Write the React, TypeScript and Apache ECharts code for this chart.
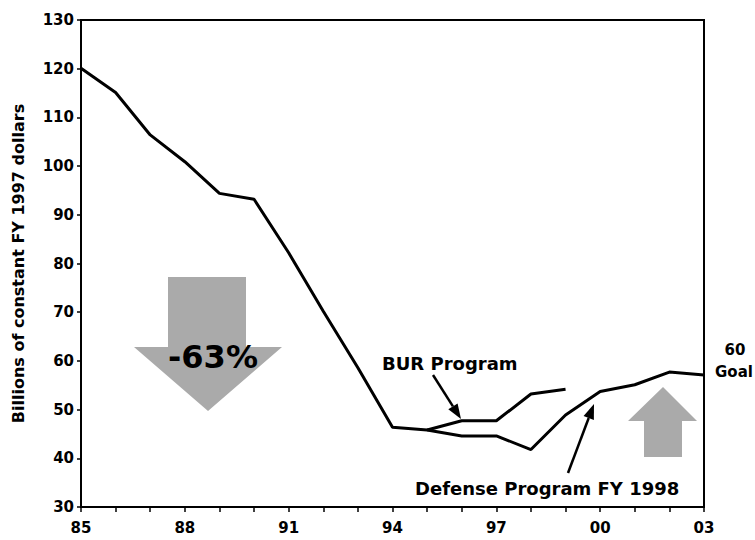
import React, { useEffect, useRef } from "react";
import * as echarts from "echarts";

const years = ["85","86","87","88","89","90","91","92","93","94","95","96","97","98","99","00","01","02","03"];
const defenseProgram = [120.1, 115.1, 106.4, 100.9, 94.4, 93.2, 82.2, 70.2, 58.6, 46.4, 45.8, 44.6, 44.6, 41.8, 48.9, 53.7, 55.1, 57.7, 57.1];
const burProgram = [null, null, null, null, null, null, null, null, null, null, 45.8, 47.7, 47.7, 53.2, 54.2, null, null, null, null];
const yTicks = { min: 30, max: 130, interval: 10 };

const FONT = "DejaVu Sans";

function arrow(x1: number, y1: number, x2: number, y2: number, headLen = 15, headHalf = 5.5) {
  const dx = x2 - x1, dy = y2 - y1;
  const len = Math.sqrt(dx * dx + dy * dy);
  const ux = dx / len, uy = dy / len;
  const bx = x2 - ux * headLen, by = y2 - uy * headLen;
  const px = -uy, py = ux;
  return [
    { type: "line", shape: { x1, y1, x2: bx, y2: by }, style: { stroke: "#000", lineWidth: 2.5 }, z: 100 },
    {
      type: "polygon",
      shape: { points: [[x2, y2], [bx + px * headHalf, by + py * headHalf], [bx - px * headHalf, by - py * headHalf]] },
      style: { fill: "#000" },
      z: 100,
    },
  ];
}

export default function App() {
  const ref = useRef<HTMLDivElement>(null);
  useEffect(() => {
    if (!ref.current) return;
    const chart = echarts.init(ref.current, undefined, { renderer: "svg" });
    const gray = "#aaaaaa";
    const labelStyle = { color: "#000", fontFamily: FONT, fontWeight: 700, fontSize: 15 };
    chart.setOption({
      animation: false,
      backgroundColor: "#fff",
      textStyle: { fontFamily: FONT, fontWeight: 700, color: "#000" },
      grid: { left: 81, right: 51, top: 20, bottom: 33, show: true, borderColor: "#000", borderWidth: 2, backgroundColor: "transparent" },
      xAxis: {
        type: "category",
        data: years,
        boundaryGap: false,
        axisLine: { lineStyle: { color: "#000", width: 2 } },
        axisTick: { show: true, interval: 0, inside: false, length: 5, lineStyle: { color: "#000", width: 1.5 } },
        axisLabel: { interval: 2, margin: 13, ...labelStyle },
        splitLine: { show: false },
      },
      yAxis: {
        type: "value",
        min: yTicks.min,
        max: yTicks.max,
        interval: yTicks.interval,
        name: "Billions of constant FY 1997 dollars",
        nameLocation: "middle",
        nameGap: 55,
        nameRotate: 90,
        nameTextStyle: { color: "#000", fontFamily: FONT, fontWeight: 700, fontSize: 16 },
        axisLine: { show: true, lineStyle: { color: "#000", width: 2 } },
        axisTick: { show: true, inside: false, length: 4, lineStyle: { color: "#000", width: 1.5 } },
        axisLabel: { margin: 7, ...labelStyle },
        splitLine: { show: false },
      },
      series: [
        {
          name: "Defense Program FY 1998",
          type: "line",
          data: defenseProgram,
          symbol: "none",
          lineStyle: { color: "#000", width: 3 },
          z: 5,
        },
        {
          name: "BUR Program",
          type: "line",
          data: burProgram,
          symbol: "none",
          connectNulls: false,
          lineStyle: { color: "#000", width: 3 },
          z: 5,
        },
      ],
      graphic: [
        {
          type: "polygon",
          shape: { points: [[168, 277], [246, 277], [246, 347], [282, 347], [208, 411], [134, 347], [168, 347]] },
          style: { fill: gray },
          z: 50,
        },
        {
          type: "text",
          x: 213,
          y: 357,
          style: { text: "-63%", fill: "#000", font: `bold 32px "${FONT}"`, textAlign: "center", textVerticalAlign: "middle" },
          z: 60,
        },
        {
          type: "polygon",
          shape: { points: [[663, 387], [697, 421], [682, 421], [682, 457], [644, 457], [644, 421], [628, 421]] },
          style: { fill: gray },
          z: 50,
        },
        {
          type: "text",
          x: 382,
          y: 363,
          style: { text: "BUR Program", fill: "#000", font: `bold 18px "${FONT}"`, textAlign: "left", textVerticalAlign: "middle" },
          z: 60,
        },
        {
          type: "text",
          x: 415,
          y: 488,
          style: { text: "Defense Program FY 1998", fill: "#000", font: `bold 18px "${FONT}"`, textAlign: "left", textVerticalAlign: "middle" },
          z: 60,
        },
        {
          type: "text",
          x: 735,
          y: 350,
          style: { text: "60", fill: "#000", font: `bold 15px "${FONT}"`, textAlign: "center", textVerticalAlign: "middle" },
          z: 60,
        },
        {
          type: "text",
          x: 734,
          y: 372,
          style: { text: "Goal", fill: "#000", font: `bold 15px "${FONT}"`, textAlign: "center", textVerticalAlign: "middle" },
          z: 60,
        },
        ...arrow(433, 375, 461, 419),
        ...arrow(568, 473, 594, 404),
      ],
    });
    return () => chart.dispose();
  }, []);
  return <div ref={ref} style={{ width: 755, height: 540, position: "fixed", left: 0, top: 0 }} />;
}
